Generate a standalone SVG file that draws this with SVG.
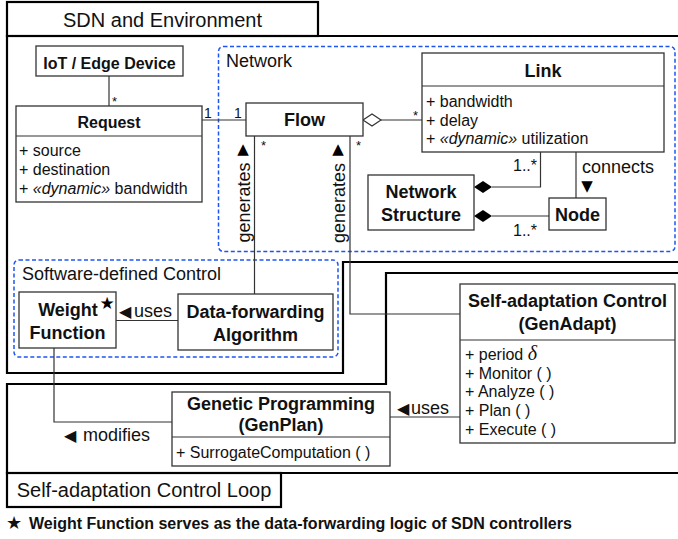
<svg xmlns="http://www.w3.org/2000/svg" width="678" height="539" viewBox="0 0 678 539">
<style>
.frame{fill:none;stroke:#000;stroke-width:2.2}
.ftitle{fill:#fff;stroke:#000;stroke-width:2.2}
.dash{fill:none;stroke:#1d55f2;stroke-width:1.5;stroke-dasharray:4 2.5}
.box{fill:#fff;stroke:#333;stroke-width:1.3}
.conn{fill:none;stroke:#333;stroke-width:1.2}
.t{font-family:"Liberation Sans",Arial,sans-serif;fill:#111}
.b{font-weight:bold}
.s20{font-size:20px}
.s18{font-size:18px}
.s16{font-size:16px}
.s14{font-size:14px}
.s13{font-size:13px}
.sym{font-family:"DejaVu Sans",sans-serif}
.mid{text-anchor:middle}
</style>
<g id="frames">
<path class="frame" d="M680 36 H7 V373 H343 V262 H680"/>
<rect class="ftitle" x="7" y="2" width="311" height="34"/>
<text class="t s20 mid" x="162.5" y="27">SDN and Environment</text>
<path class="frame" d="M680 273 H386 V384 H7 V473 H680"/>
<rect class="ftitle" x="7" y="473" width="274" height="34"/>
<text class="t s20 mid" x="144" y="497">Self-adaptation Control Loop</text>
</g>
<g id="network-group">
<rect class="dash" x="218.5" y="46.5" width="456.5" height="205" rx="5"/>
<text class="t s18" x="226" y="67">Network</text>
</g>
<g id="control-group">
<rect class="dash" x="14" y="260" width="324" height="97" rx="5"/>
<text class="t s18" x="22" y="280">Software-defined Control</text>
</g>
<g id="connectors">
<path class="conn" d="M109 76 V106"/>
<path class="conn" d="M202 120 H246"/>
<path class="conn" d="M381 120 H422"/>
<polygon points="363,120 372,114 381,120 372,126" fill="#fff" stroke="#333" stroke-width="1.2"/>
<path class="conn" d="M540.5 152 V187 H492"/>
<polygon points="474,187 483,181 492,187 483,193" fill="#000"/>
<path class="conn" d="M549 216 H492"/>
<polygon points="474,216 483,210 492,216 483,222" fill="#000"/>
<path class="conn" d="M576 152 V198"/>
<path class="conn" d="M254.5 136 V294"/>
<path class="conn" d="M350 136 V314 H460"/>
<path class="conn" d="M116 320.5 H178"/>
<path class="conn" d="M54 348 V422 H172"/>
<path class="conn" d="M390 417 H460"/>
<text class="t s13" x="112" y="106">*</text>
<text class="t s14" x="204" y="118">1</text>
<text class="t s14" x="234" y="118">1</text>
<text class="t s13" x="413" y="120">*</text>
<text class="t s13" x="261" y="150">*</text>
<text class="t s13" x="356" y="150">*</text>
<text class="t s16" x="513" y="171">1..*</text>
<text class="t s16" x="513" y="236">1..*</text>
<text class="t s18" x="582" y="173">connects</text>
<text class="sym" font-size="15" x="587" y="191" text-anchor="middle" fill="#000">▼</text>
<text class="sym" font-size="15" x="243" y="154" text-anchor="middle" fill="#000">▲</text>
<text class="t s18 mid" transform="translate(249.5 202.5) rotate(-90)">generates</text>
<text class="sym" font-size="15" x="338" y="154" text-anchor="middle" fill="#000">▲</text>
<text class="t s18 mid" transform="translate(344.5 203) rotate(-90)">generates</text>
<text class="t s18" y="317"><tspan class="sym" font-size="16" x="119">◀</tspan><tspan x="134">uses</tspan></text>
<text class="t s18" y="414"><tspan class="sym" font-size="16" x="397">◀</tspan><tspan x="411">uses</tspan></text>
<text class="t s18" y="441"><tspan class="sym" font-size="16" x="64">◀</tspan><tspan x="83">modifies</tspan></text>
</g>
<g id="iot">
<rect class="box" x="36" y="46" width="147" height="30"/>
<text class="t b s16 mid" x="109.5" y="68.5">IoT / Edge Device</text>
</g>
<g id="request">
<rect class="box" x="16" y="106" width="186" height="96"/>
<path class="conn" d="M16 136 H202"/>
<text class="t b s16 mid" x="109" y="128">Request</text>
<text class="t s16" x="19" y="156">+ source</text>
<text class="t s16" x="19" y="175">+ destination</text>
<text class="t s16" x="19" y="193.5">+ <tspan font-style="italic">«dynamic»</tspan> bandwidth</text>
</g>
<g id="flow">
<rect class="box" x="246" y="103" width="117" height="33"/>
<text class="t b s18 mid" x="304.5" y="126">Flow</text>
</g>
<g id="link">
<rect class="box" x="422" y="53" width="242" height="99"/>
<path class="conn" d="M422 86 H664"/>
<text class="t b s18 mid" x="543" y="77">Link</text>
<text class="t s16" x="426" y="107">+ bandwidth</text>
<text class="t s16" x="426" y="125.5">+ delay</text>
<text class="t s16" x="426" y="144">+ <tspan font-style="italic">«dynamic»</tspan> utilization</text>
</g>
<g id="network-structure">
<rect class="box" x="368" y="175" width="106" height="55"/>
<text class="t b s18 mid" x="421" y="198">Network</text>
<text class="t b s18 mid" x="421" y="221">Structure</text>
</g>
<g id="node">
<rect class="box" x="549" y="198" width="57" height="32"/>
<text class="t b s18 mid" x="577.5" y="221">Node</text>
</g>
<g id="weight-function">
<rect class="box" x="19" y="292" width="97" height="56"/>
<text class="t b s18 mid" x="68" y="316">Weight</text>
<text class="t b s18 mid" x="67.5" y="338.5">Function</text>
<text class="sym" font-size="17" x="107" y="308.5" text-anchor="middle" fill="#000">★</text>
</g>
<g id="data-forwarding">
<rect class="box" x="178" y="294" width="155" height="56"/>
<text class="t b s18 mid" x="255.5" y="318">Data-forwarding</text>
<text class="t b s18 mid" x="255.5" y="340.5">Algorithm</text>
</g>
<g id="genplan">
<rect class="box" x="172" y="392" width="218" height="74"/>
<path class="conn" d="M172 437 H390"/>
<text class="t b s18 mid" x="281" y="409.5">Genetic Programming</text>
<text class="t b s18 mid" x="281" y="431">(GenPlan)</text>
<text class="t s16" x="176" y="458">+ SurrogateComputation ( )</text>
</g>
<g id="genadapt">
<rect class="box" x="460" y="284" width="215" height="159"/>
<path class="conn" d="M460 340 H675"/>
<text class="t b s18 mid" x="567.5" y="306.5">Self-adaptation Control</text>
<text class="t b s18 mid" x="567.5" y="330">(GenAdapt)</text>
<text class="t s16" x="465" y="360">+ period <tspan font-family="Liberation Serif,serif" font-style="italic" font-size="20">δ</tspan></text>
<text class="t s16" x="465" y="378.7">+ Monitor ( )</text>
<text class="t s16" x="465" y="397.4">+ Analyze ( )</text>
<text class="t s16" x="465" y="416">+ Plan ( )</text>
<text class="t s16" x="465" y="434.7">+ Execute ( )</text>
</g>
<g id="footnote">
<text class="t b s16" y="529"><tspan class="sym" font-size="18" x="6">★</tspan><tspan x="29">Weight Function serves as the data-forwarding logic of SDN controllers</tspan></text>
</g>
</svg>
